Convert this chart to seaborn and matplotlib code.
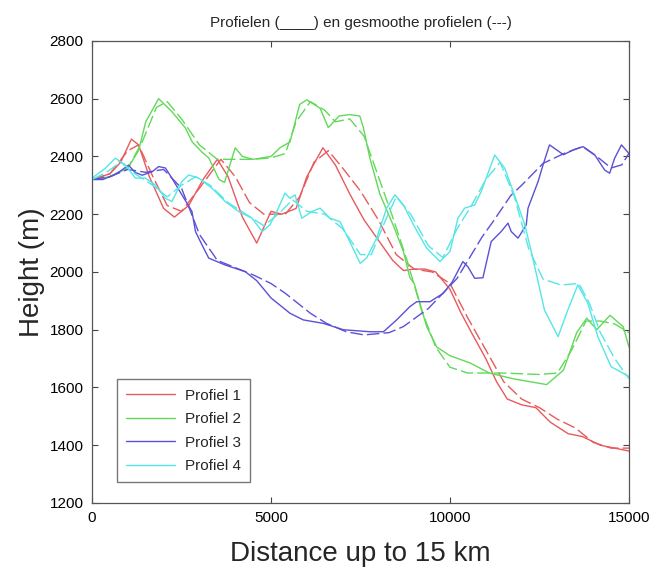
import numpy as np
import pandas as pd
import matplotlib
matplotlib.use("Agg")
import matplotlib.pyplot as plt
import seaborn as sns

# ---------------- data ----------------
p1_x = [0, 500, 800, 1100, 1300, 1600, 2000, 2300, 2700, 3100, 3500, 3800, 4200, 4600, 5000, 5300, 5700,
        6000, 6450, 6800, 7200, 7600, 8000, 8400, 8700, 9000, 9300, 9600, 10000, 10300, 10600, 11000,
        11300, 11600, 12000, 12400, 12800, 13300, 13700, 14200, 14600, 15000]
p1_y = [2320, 2340, 2380, 2460, 2440, 2330, 2220, 2190, 2230, 2320, 2390, 2330, 2190, 2100, 2210, 2200, 2220,
        2330, 2430, 2370, 2270, 2180, 2110, 2040, 2005, 2010, 2010, 2000, 1940, 1860, 1790, 1700,
        1620, 1560, 1540, 1530, 1480, 1440, 1430, 1400, 1390, 1380]
p1s_x = [0, 500, 1000, 1300, 1700, 2100, 2500, 3000, 3600, 4000, 4400, 4800, 5400, 5800, 6200, 6600, 7000,
         7500, 8000, 8500, 9000, 9500, 10000, 10500, 11000, 11500, 12000, 12500, 13000, 13500, 14000, 14500, 15000]
p1s_y = [2320, 2340, 2420, 2440, 2330, 2230, 2210, 2290, 2390, 2330, 2240, 2200, 2200, 2260, 2380, 2420, 2360,
         2280, 2180, 2060, 2010, 2000, 1960, 1840, 1730, 1620, 1560, 1530, 1490, 1460, 1410, 1390, 1390]

p2_x = [0, 500, 1000, 1300, 1500, 1860, 2230, 2600, 2800, 3070, 3260, 3550, 3700, 4000, 4200, 4500, 5000,
        5250, 5530, 5800, 6000, 6370, 6600, 6900, 7200, 7480, 7580, 7760, 8040, 8420, 8700, 8880, 9000,
        9350, 9630, 10000, 10560, 11100, 11770, 12700, 13170, 13540, 13820, 14100, 14470, 14840, 15000]
p2_y = [2320, 2330, 2360, 2420, 2520, 2600, 2555, 2500, 2450, 2415, 2395, 2320, 2310, 2430, 2400, 2390, 2400,
        2430, 2450, 2580, 2596, 2567, 2500, 2540, 2545, 2540, 2500, 2395, 2270, 2160, 2070, 1980, 1960,
        1810, 1740, 1710, 1685, 1650, 1630, 1610, 1660, 1790, 1840, 1800, 1850, 1810, 1740]
p2s_x = [0, 500, 1000, 1400, 1800, 2100, 2500, 3000, 3500, 4000, 4500, 5000, 5400, 5700, 6100, 6500, 6800,
         7200, 7600, 8000, 8400, 8800, 9200, 9600, 10000, 10500, 11500, 12500, 13000, 13400, 13800, 14200,
         14600, 15000]
p2s_y = [2320, 2330, 2360, 2450, 2570, 2590, 2530, 2440, 2390, 2390, 2390, 2395, 2410, 2520, 2590, 2560, 2520,
         2530, 2470, 2330, 2190, 2040, 1870, 1740, 1670, 1650, 1650, 1645, 1650, 1730, 1830, 1830,
         1820, 1790]

p3_x = [0, 300, 600, 800, 1020, 1200, 1400, 1680, 1860, 2050, 2230, 2510, 2790, 2890, 3070, 3260, 3720, 4280,
        4600, 5000, 5530, 5900, 6460, 7020, 7760, 8140, 8510, 8880, 9070, 9440, 9810, 10060, 10360, 10500,
        10690, 10920, 11150, 11430, 11620, 11710, 11900, 12130, 12180, 12460, 12600, 12780, 13170, 13450,
        13720, 14040, 14320, 14460, 14600, 14790, 15000]
p3_y = [2320, 2320, 2335, 2350, 2370, 2345, 2335, 2347, 2365, 2360, 2325, 2267, 2210, 2140, 2094, 2048, 2024, 2001,
        1970, 1910, 1857, 1834, 1822, 1800, 1793, 1793, 1834, 1880, 1897, 1897, 1926, 1965, 2036, 2018,
        1978, 1980, 2105, 2140, 2169, 2140, 2117, 2163, 2221, 2313, 2371, 2440, 2406, 2423,
        2434, 2406, 2353, 2342, 2394, 2440, 2410]
p3s_x = [0, 500, 1000, 1500, 2000, 2500, 3000, 3500, 4000, 4500, 5000, 5400, 6100, 6550, 7100, 7600, 8300,
         8700, 9400, 10200, 10900, 11200, 11700, 12000, 12600, 13200, 13700, 14100, 14500, 14800, 15000]
p3s_y = [2320, 2330, 2355, 2345, 2355, 2290, 2130, 2040, 2015, 1990, 1960, 1926, 1857, 1822, 1793, 1782, 1790,
         1811, 1874, 1978, 2122, 2174, 2265, 2300, 2376, 2411, 2434, 2400, 2360, 2371, 2411]

p4_x = [0, 370, 650, 930, 1210, 1490, 1770, 2050, 2230, 2510, 2700, 2980, 3350, 3720, 4100, 4470, 4750, 4970,
        5160, 5390, 5530, 5670, 5860, 6140, 6370, 6650, 6930, 7200, 7490, 7670, 7950, 8230, 8460, 8700,
        8980, 9350, 9720, 10000, 10220, 10410, 10690, 10870, 11250, 11530, 11800, 12090, 12270, 12460,
        12640, 13020, 13290, 13570, 13850, 14130, 14500, 15000]
p4_y = [2325, 2359, 2394, 2371, 2325, 2325, 2301, 2255, 2244, 2313, 2336, 2325, 2290, 2244, 2209, 2186, 2140, 2163,
        2209, 2273, 2255, 2267, 2186, 2209, 2221, 2186, 2174, 2105, 2030, 2048, 2117, 2221, 2267, 2232,
        2163, 2082, 2036, 2071, 2186, 2221, 2232, 2278, 2405, 2359, 2267, 2163, 2071, 1967,
        1868, 1776, 1868, 1955, 1892, 1776, 1672, 1638]
p4s_x = [0, 400, 800, 1200, 1700, 2100, 2500, 2900, 3300, 3800, 4300, 4800, 5200, 5600, 6000, 6500, 7000,
         7500, 7800, 8200, 8500, 8900, 9400, 9800, 10200, 10600, 11000, 11400, 11800, 12200, 12600, 13100,
         13600, 13900, 14200, 14600, 15000]
p4s_y = [2320, 2345, 2380, 2340, 2300, 2260, 2300, 2330, 2300, 2240, 2200, 2160, 2200, 2250, 2210, 2200, 2150,
         2060, 2060, 2180, 2260, 2200, 2090, 2050, 2150, 2230, 2320, 2380, 2260, 2080, 1975, 1955,
         1960, 1890, 1790, 1700, 1630]

labels = ["Profiel 1", "Profiel 2", "Profiel 3", "Profiel 4"]
colors = ["#e85a5c", "#62d95a", "#5b50d6", "#55e6e6"]
raw = [(p1_x, p1_y), (p2_x, p2_y), (p3_x, p3_y), (p4_x, p4_y)]
smooth = [(p1s_x, p1s_y), (p2s_x, p2s_y), (p3s_x, p3s_y), (p4s_x, p4s_y)]
x_ticks = [0, 5000, 10000, 15000]
y_ticks = [1200, 1400, 1600, 1800, 2000, 2200, 2400, 2600, 2800]

# ---------------- plot ----------------
sns.set_theme(style="white")
plt.rcParams["font.family"] = ["Liberation Sans", "DejaVu Sans"]

fig = plt.figure(figsize=(6.67, 5.74), dpi=100)
ax = fig.add_axes([0.138, 0.1237, 0.805, 0.805])

for lab, col, (xr, yr), (xs, ys) in zip(labels, colors, raw, smooth):
    sns.lineplot(x=xr, y=yr, color=col, lw=1.0, ax=ax, label=lab, sort=False, estimator=None)
    sns.lineplot(x=xs, y=ys, color=col, lw=1.0, ax=ax, sort=False, estimator=None,
                 linestyle=(0, (9, 3)), legend=False)

ax.set_xlim(0, 15000)
ax.set_ylim(1200, 2800)
ax.set_xticks(x_ticks)
ax.set_yticks(y_ticks)
ax.set_xticklabels([str(v) for v in x_ticks], fontsize=11)
ax.set_yticklabels([str(v) for v in y_ticks], fontsize=11)
ax.tick_params(direction="in", length=4, width=0.8, top=True, right=True,
               bottom=True, left=True, colors="#444444", labelcolor="black", pad=6)
for s in ax.spines.values():
    s.set_color("#555555")
    s.set_linewidth(0.9)
ax.grid(False)

ax.set_title("Profielen (____) en gesmoothe profielen (---)", fontsize=11, pad=10)
ax.set_xlabel("Distance up to 15 km", fontsize=20)
ax.set_ylabel("Height (m)", fontsize=20)
ax.xaxis.set_label_coords(0.5, -0.082)
ax.yaxis.set_label_coords(-0.088, 0.5)

# legend: only the raw lines
handles, labs = ax.get_legend_handles_labels()
leg = ax.legend(handles[:4], labs[:4], loc="lower left", bbox_to_anchor=(0.047, 0.045),
                borderaxespad=0, fontsize=11, frameon=True, fancybox=False, handlelength=3.2,
                borderpad=0.6, labelspacing=0.62, handletextpad=0.6)
leg.get_frame().set_edgecolor("#555555")
leg.get_frame().set_linewidth(1.0)

fig.savefig("out.png", dpi=100, facecolor="white")
